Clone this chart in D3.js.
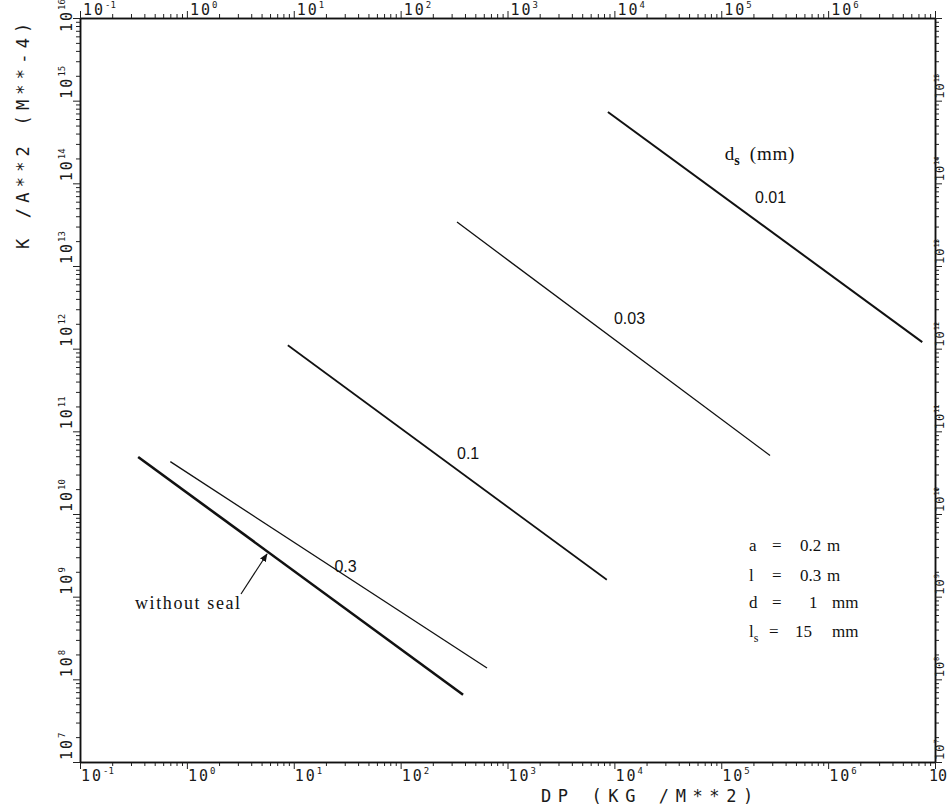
<!DOCTYPE html>
<html>
<head>
<meta charset="utf-8">
<script src="https://cdn.jsdelivr.net/npm/d3@7"></script>
<style>
  body { margin: 0; background: #fff; }
  svg { display: block; }
  .tick-label { font-family: "DejaVu Sans Mono", monospace; font-size: 15px; fill: #1a1a1a; letter-spacing: 2px; }
  .axis-title { font-family: "DejaVu Sans Mono", monospace; font-size: 16px; fill: #1a1a1a; }
  .note { font-family: "Liberation Serif", "DejaVu Serif", serif; font-size: 17px; fill: #111; }
  .curve-label { font-family: "Liberation Sans", Arial, sans-serif; font-size: 16px; fill: #111; }
</style>
</head>
<body>
<div id="chart"></div>
<script>
// axis decades (exponents)
var dpExp = [-1, 0, 1, 2, 3, 4, 5, 6, 7];
var kExp = [7, 8, 9, 10, 11, 12, 13, 14, 15, 16];
var topLabelExp = [-1, 0, 1, 2, 3, 4, 5, 6];
var bottomLabelExp = [-1, 0, 1, 2, 3, 4, 5, 6];
var leftLabelExp = [7, 8, 9, 10, 11, 12, 13, 14, 15, 16];
var rightLabelExp = [7, 8, 9, 10, 11, 12, 13, 14, 15];

// curves: seal gap d_s (mm), DP and K at both ends
var curveNames = ["0.01", "0.03", "0.1", "0.3", "without seal"];
var curveDP = [[8.7e3, 7.6e6], [337, 2.86e5], [8.8, 8.5e3], [0.70, 643], [0.35, 384]];
var curveK = [[7.3e14, 1.2e12], [3.4e13, 5.1e10], [1.1e12, 1.6e9], [4.3e10, 1.37e8], [4.9e10, 6.5e7]];

// where the curve labels sit (DP, K)
var labelDP = [2.07e5, 9.9e3, 337, 24];
var labelK = [5.8e13, 2.0e12, 4.6e10, 2.0e9];

// parameters box
var paramNames = ["a", "l", "d", "l"];
var paramSubs = ["", "", "", "s"];
var paramValues = ["0.2", "0.3", "1", "15"];
var paramUnits = ["m", "m", "mm", "mm"];

var W = 949, H = 806;
var margin = { top: 18, right: 14, bottom: 44, left: 80 };

var svg = d3.select("#chart").append("svg")
    .attr("width", W)
    .attr("height", H);

var x = d3.scaleLog()
    .domain([Math.pow(10, dpExp[0]), Math.pow(10, dpExp[dpExp.length - 1])])
    .range([margin.left, W - margin.right]);

var y = d3.scaleLog()
    .domain([Math.pow(10, kExp[0]), Math.pow(10, kExp[kExp.length - 1])])
    .range([H - margin.bottom, margin.top]);

var isMajor = function(v) {
    return Math.abs(Math.log10(v) - Math.round(Math.log10(v))) < 1e-9;
};
var xMinor = x.ticks().filter(function(v) { return !isMajor(v); }),
    xMajor = x.ticks().filter(isMajor),
    yMinor = y.ticks().filter(function(v) { return !isMajor(v); }),
    yMajor = y.ticks().filter(isMajor);

////////// frame + ticks //////////

function drawAxis(gen, tr, minor, major) {
    var g = svg.append("g").attr("transform", tr);
    g.call(gen.tickValues(minor).tickSize(4).tickSizeOuter(0).tickFormat(""));
    var g2 = svg.append("g").attr("transform", tr);
    g2.call(gen.tickValues(major).tickSize(7).tickSizeOuter(0).tickFormat(""));
    [g, g2].forEach(function(s) {
        s.select(".domain").attr("stroke", "#111").attr("stroke-width", 1.5);
        s.selectAll(".tick line").attr("stroke", "#222").attr("stroke-width", 1);
    });
}

drawAxis(d3.axisBottom(x), "translate(0," + (H - margin.bottom) + ")", xMinor, xMajor);
drawAxis(d3.axisTop(x), "translate(0," + margin.top + ")", xMinor, xMajor);
drawAxis(d3.axisLeft(y), "translate(" + margin.left + ",0)", yMinor, yMajor);
drawAxis(d3.axisRight(y), "translate(" + (W - margin.right) + ",0)", yMinor, yMajor);

////////// tick labels //////////

function powLabel(sel, e, small) {
    sel.append("tspan").text("10");
    sel.append("tspan")
        .attr("dy", small ? -5 : -7)
        .style("font-size", small ? "7px" : "9px")
        .style("letter-spacing", "0px")
        .text(e);
}

svg.append("g").selectAll("text")
    .data(topLabelExp)
    .enter().append("text")
    .attr("class", "tick-label")
    .attr("x", function(e) { return x(Math.pow(10, e)) + 3; })
    .attr("y", margin.top - 3)
    .each(function(e) { powLabel(d3.select(this), e); });

svg.append("g").selectAll("text")
    .data(bottomLabelExp)
    .enter().append("text")
    .attr("class", "tick-label")
    .attr("x", function(e) { return x(Math.pow(10, e)) + 1; })
    .attr("y", H - margin.bottom + 19)
    .each(function(e) { powLabel(d3.select(this), e); });

// last bottom label shows only "10" in the original
svg.append("text")
    .attr("class", "tick-label")
    .attr("x", x(Math.pow(10, dpExp[dpExp.length - 1])) - 6)
    .attr("y", H - margin.bottom + 19)
    .style("letter-spacing", "0px")
    .text("10");

svg.append("g").selectAll("text")
    .data(leftLabelExp)
    .enter().append("text")
    .attr("class", "tick-label")
    .attr("transform", function(e) {
        // top label is pushed down so it stays on the page
        var yy = e === 16 ? y(Math.pow(10, e)) + 14 : y(Math.pow(10, e)) - 2;
        return "translate(" + (margin.left - 8) + "," + yy + ") rotate(-90)";
    })
    .each(function(e) { powLabel(d3.select(this), e); });

svg.append("g").selectAll("text")
    .data(rightLabelExp)
    .enter().append("text")
    .attr("class", "tick-label")
    .style("font-size", "12px")
    .style("letter-spacing", "1px")
    .attr("transform", function(e) {
        return "translate(" + (W - 5) + "," + (y(Math.pow(10, e)) - 2) + ") rotate(-90)";
    })
    .each(function(e) { powLabel(d3.select(this), e, true); });

////////// axis titles //////////

svg.append("text")
    .attr("class", "axis-title")
    .attr("transform", "translate(29,249) rotate(-90)")
    .style("font-size", "17px")
    .style("letter-spacing", "5.2px")
    .text("K /A**2 (M**-4)");

svg.append("text")
    .attr("class", "axis-title")
    .attr("x", 541)
    .attr("y", H - 4)
    .style("font-size", "17px")
    .style("letter-spacing", "6.6px")
    .text("DP (KG /M**2)");

////////// curves //////////

var curveWidth = { "0.01": 2, "0.03": 1.3, "0.1": 1.7, "0.3": 1.3, "without seal": 2.6 };

var line = d3.line()
    .x(function(d) { return x(d[0]); })
    .y(function(d) { return y(d[1]); });

var curves = curveNames.map(function(n, i) {
    return { name: n, pts: [[curveDP[i][0], curveK[i][0]], [curveDP[i][1], curveK[i][1]]] };
});

svg.append("g").selectAll("path")
    .data(curves)
    .enter().append("path")
    .attr("d", function(d) { return line(d.pts); })
    .attr("fill", "none")
    .attr("stroke", "#111")
    .attr("stroke-width", function(d) { return curveWidth[d.name]; });

svg.append("g").selectAll("text")
    .data(labelDP)
    .enter().append("text")
    .attr("class", "curve-label")
    .attr("x", function(d) { return x(d); })
    .attr("y", function(d, i) { return y(labelK[i]); })
    .text(function(d, i) { return curveNames[i]; });

// d_s (mm) heading
var head = svg.append("text")
    .attr("class", "note")
    .style("font-size", "19px")
    .attr("x", x(1.08e5))
    .attr("y", y(1.9e14));
head.append("tspan").text("d");
head.append("tspan").attr("dy", 5).style("font-size", "14px").style("font-weight", "bold").text("s");
head.append("tspan").attr("dy", -5).attr("dx", 10).style("letter-spacing", "0.8px").text("(mm)");

////////// without seal + arrow //////////

svg.append("defs").append("marker")
    .attr("id", "arr")
    .attr("viewBox", "0 0 10 10")
    .attr("refX", 9).attr("refY", 5)
    .attr("markerWidth", 7).attr("markerHeight", 7)
    .attr("orient", "auto")
    .append("path")
    .attr("d", "M0,1 L10,5 L0,9 Z")
    .attr("fill", "#111");

var ws = curves[4].pts;
var x0 = x(ws[0][0]), y0 = y(ws[0][1]), x1 = x(ws[1][0]), y1 = y(ws[1][1]);
var tipX = 268, tipY = y0 + (y1 - y0) * (tipX - x0) / (x1 - x0);

svg.append("line")
    .attr("x1", 241).attr("y1", 594)
    .attr("x2", tipX - 1).attr("y2", tipY + 2)
    .attr("stroke", "#111")
    .attr("stroke-width", 1.2)
    .attr("marker-end", "url(#arr)");

svg.append("text")
    .attr("class", "note")
    .attr("x", 135)
    .attr("y", 609)
    .style("font-size", "18px")
    .style("letter-spacing", "1.6px")
    .text("without seal");

////////// parameters //////////

var valueX = [800, 800, 809, 795];
var unitX = [827, 827, 832, 832];
var rowY = [551, 581, 608, 637];

paramNames.forEach(function(n, i) {
    var t = svg.append("text").attr("class", "note").attr("x", 749).attr("y", rowY[i]);
    t.append("tspan").text(n);
    if (paramSubs[i]) {
        t.append("tspan").attr("dy", 5).style("font-size", "12px").text(paramSubs[i]);
    }
    svg.append("text").attr("class", "note").attr("x", paramSubs[i] ? 769 : 772).attr("y", rowY[i]).text("=");
    svg.append("text").attr("class", "note").attr("x", valueX[i]).attr("y", rowY[i]).text(paramValues[i]);
    svg.append("text").attr("class", "note").attr("x", unitX[i]).attr("y", rowY[i]).text(paramUnits[i]);
});
</script>
</body>
</html>
